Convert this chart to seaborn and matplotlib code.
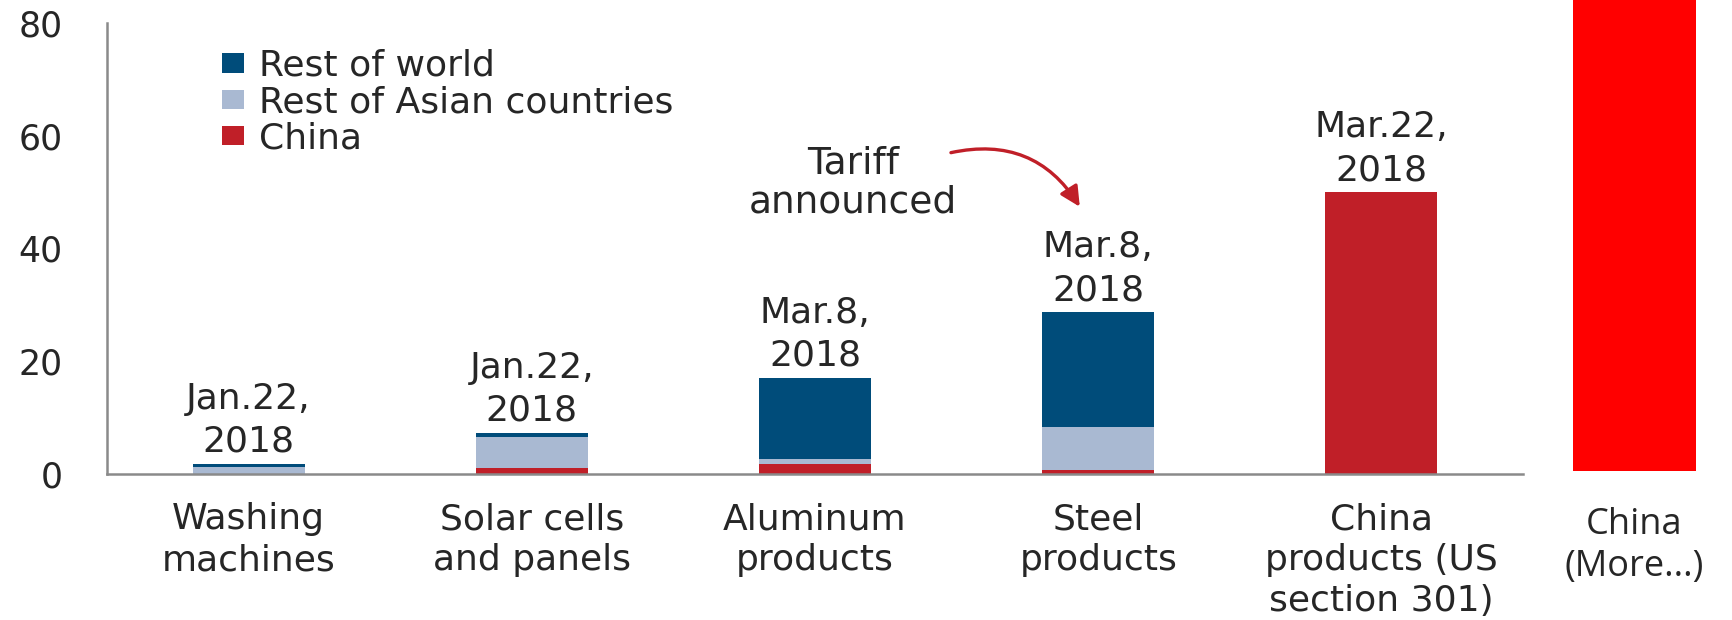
import numpy as np
import pandas as pd
import matplotlib
matplotlib.use("Agg")
import matplotlib.pyplot as plt
import seaborn as sns

# ---------------- data ----------------
categories = ["Washing\nmachines", "Solar cells\nand panels", "Aluminum\nproducts",
              "Steel\nproducts", "China\nproducts (US\nsection 301)"]
china = [0.0, 1.0, 1.7, 0.7, 50.0]
rest_asia = [1.3, 5.5, 1.0, 7.6, 0.0]
rest_world = [0.5, 0.8, 14.4, 20.4, 0.0]
dates = ["Jan.22,\n2018", "Jan.22,\n2018", "Mar.8,\n2018", "Mar.8,\n2018", "Mar.22,\n2018"]
series_names = ["Rest of world", "Rest of Asian countries", "China"]
yticks = [0, 20, 40, 60, 80]
extra_category = ["China\n(More...)"]
extra_value = [85.0]
note_text = "Tariff\nannounced"

# ---------------- style ----------------
sns.set_style("white")
plt.rcParams["font.family"] = ["DejaVu Sans"]
TXT = "#262626"
GRAY = "#8a8a8a"
C_WORLD = "#004C7A"
C_ASIA = "#A9B9D2"
C_CHINA = "#C01F28"
C_BIG = "#FF0000"

df = pd.DataFrame({"category": categories, "china": china,
                   "asia": rest_asia, "world": rest_world})
df["asia_top"] = df["china"] + df["asia"]
df["total"] = df["asia_top"] + df["world"]

fig = plt.figure(figsize=(17.33, 6.2), dpi=100)
ax = fig.add_axes([107 / 1733, 1 - 474 / 620, (1523 - 107) / 1733, (474 - 23) / 620])

bw = 0.395
sns.barplot(data=df, x="category", y="total", color=C_WORLD, width=bw, saturation=1,
            linewidth=0, label=series_names[0], ax=ax)
sns.barplot(data=df, x="category", y="asia_top", color=C_ASIA, width=bw, saturation=1,
            linewidth=0, label=series_names[1], ax=ax)
sns.barplot(data=df, x="category", y="china", color=C_CHINA, width=bw, saturation=1,
            linewidth=0, label=series_names[2], ax=ax)

ax.set_xlim(-0.5, len(categories) - 0.5)
ax.set_ylim(0, 80)
ax.set_yticks(yticks)
ax.set_xlabel("")
ax.set_ylabel("")
ax.set_xticks(np.arange(-0.5, len(categories), 1.0), minor=True)
ax.tick_params(axis="x", which="major", length=0, pad=20.5, labelsize=26, labelcolor=TXT)
ax.tick_params(axis="x", which="minor", length=8, width=1.5, color=GRAY, direction="out")
ax.tick_params(axis="y", which="major", length=11, width=1.5, color=GRAY, direction="out",
               pad=21, labelsize=25, labelcolor=TXT)
for lab in ax.get_xticklabels():
    lab.set_linespacing(1.25)
for s in ["top", "right"]:
    ax.spines[s].set_visible(False)
for s in ["left", "bottom"]:
    ax.spines[s].set_color(GRAY)
    ax.spines[s].set_linewidth(1.8)

# date labels above bars
for i, (tot, d) in enumerate(zip(df["total"], dates)):
    ax.annotate(d, (i, tot), xytext=(0, 3.5), textcoords="offset points",
                ha="center", va="bottom", fontsize=26, color=TXT, linespacing=1.33)

# tariff note with curved arrow
ax.text(2.135, 51.6, note_text, ha="center", va="center", fontsize=27, color=TXT,
        linespacing=1.1)
ax.annotate("", xy=(2.935, 47.4), xytext=(2.48, 57.0),
            arrowprops=dict(arrowstyle="-|>", color=C_CHINA, lw=2.4, mutation_scale=30,
                            connectionstyle="arc3,rad=-0.35", shrinkA=0, shrinkB=0))

leg = ax.legend(loc="upper left", bbox_to_anchor=(222 / 1733, 1 - 49 / 620),
                bbox_transform=fig.transFigure, frameon=False, fontsize=26,
                handlelength=0.62, handleheight=0.45, handletextpad=0.4,
                labelspacing=0.06, borderpad=0, borderaxespad=0)
for t in leg.get_texts():
    t.set_color(TXT)

# extra highlighted bar on the right
ax2 = fig.add_axes([1573 / 1733, 1 - 471 / 620, 123 / 1733, 471 / 620])
sns.barplot(x=extra_category, y=extra_value, color=C_BIG, width=1.0, saturation=1,
            linewidth=0, ax=ax2)
ax2.set_xlim(-0.5, 0.5)
ax2.set_ylim(0, 471 / 5.6375)
ax2.set_yticks([])
ax2.set_ylabel("")
for s in ax2.spines.values():
    s.set_visible(False)
ax2.tick_params(axis="x", length=0, pad=26)
for lab in ax2.get_xticklabels():
    lab.set_fontfamily(["Open Sans", "DejaVu Sans"])
    lab.set_fontsize(26)
    lab.set_color(TXT)
    lab.set_linespacing(1.2)

fig.savefig("out.png", dpi=100)
